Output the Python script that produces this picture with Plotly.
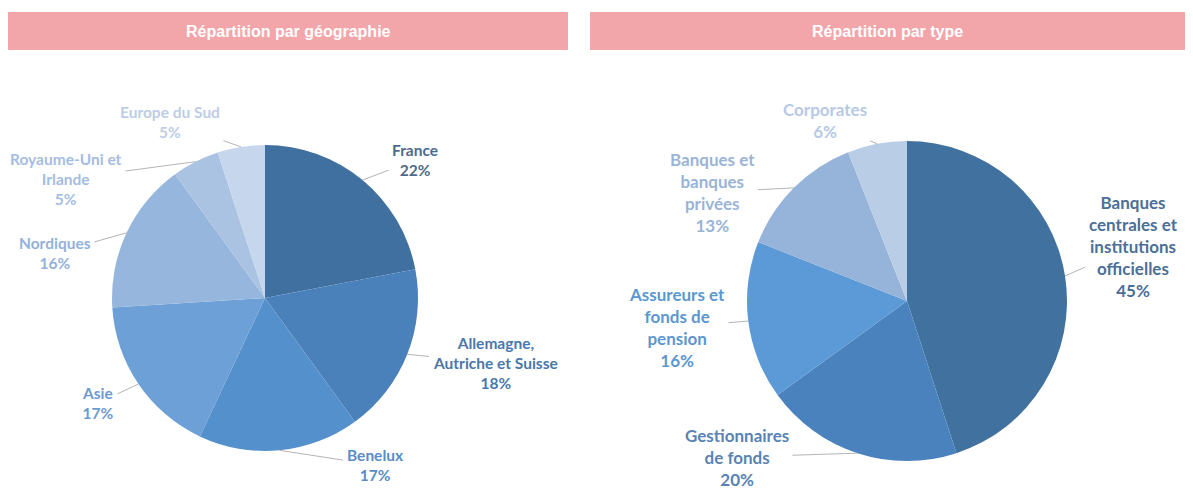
import math
import plotly.graph_objects as go

W, H = 1193, 489

# ---- data ----
geo_labels = ["France", "Allemagne,<br>Autriche et Suisse", "Benelux", "Asie",
              "Nordiques", "Royaume-Uni et<br>Irlande", "Europe du Sud"]
geo_values = [22, 18, 17, 17, 16, 5, 5]

type_labels = ["Banques<br>centrales et<br>institutions<br>officielles", "Gestionnaires<br>de fonds",
               "Assureurs et<br>fonds de<br>pension", "Banques et<br>banques<br>privées", "Corporates"]
type_values = [45, 20, 16, 13, 6]

titles = ["Répartition par géographie", "Répartition par type"]

# ---- styles ----
geo_colors = ["#3F70A0", "#4A81BA", "#5490CC", "#6CA0D6", "#96B6DE", "#ABC3E3", "#C6D6EC"]
geo_text_colors = ["#4E6B8C", "#4A78AA", "#5A8CC6", "#6E9AD0", "#93B1DA", "#A5BDE0", "#BDCDE6"]
type_colors = ["#41729F", "#4A82BE", "#5B9AD6", "#96B4DA", "#BACDE7"]
type_text_colors = ["#4B6F96", "#5B83B2", "#5B97D0", "#9AB4D6", "#B7C9E3"]

# pie geometry (pixels): center x, center y, radius
geo_geom = (265, 298, 153)
type_geom = (907, 301, 160)

# label centres (pixels)
geo_label_pos = [(415, 160), (495, 363), (375, 465), (98, 403), (55, 253), (66, 179), (170, 122)]
type_label_pos = [(1133, 246), (737, 457), (677, 327), (712, 192), (825, 121)]


def px(x):
    return x / W


def py(y):
    return 1 - y / H


fig = go.Figure()


def add_pie(values, colors, geom):
    cx, cy, r = geom
    fig.add_trace(go.Pie(
        values=values, labels=[str(i) for i in range(len(values))],
        sort=False, direction="clockwise", rotation=0,
        marker=dict(colors=colors, line=dict(width=0)),
        textinfo="none", hoverinfo="skip", showlegend=False,
        domain=dict(x=[px(cx - r), px(cx + r)], y=[py(cy + r), py(cy - r)]),
    ))


def add_labels(labels, values, tcolors, geom, positions, size):
    cx, cy, r = geom
    total = sum(values)
    cum = 0
    for lab, v, c, (lx, ly) in zip(labels, values, tcolors, positions):
        th = 2 * math.pi * (cum + v / 2) / total
        cum += v
        tx = cx + r * math.sin(th)
        ty = cy - r * math.cos(th)
        fig.add_annotation(
            x=px(tx), y=py(ty), xref="paper", yref="paper",
            ax=lx - tx, ay=ly - ty,
            showarrow=True, arrowhead=0, arrowwidth=1, arrowcolor="#B4B4B4",
            standoff=0, startstandoff=2,
            text=f"{lab}<br>{v}%", align="center",
            font=dict(family="Lato, 'Open Sans', sans-serif", size=size, color=c, weight="bold"),
        )


add_pie(geo_values, geo_colors, geo_geom)
add_pie(type_values, type_colors, type_geom)
add_labels(geo_labels, geo_values, geo_text_colors, geo_geom, geo_label_pos, 15.5)
add_labels(type_labels, type_values, type_text_colors, type_geom, type_label_pos, 17)

# header bars
bars = [(8, 568), (590, 1185)]
for (x0, x1), t in zip(bars, titles):
    fig.add_shape(type="rect", xref="paper", yref="paper",
                  x0=px(x0), x1=px(x1), y0=py(50), y1=py(12),
                  fillcolor="#F2A6AA", line=dict(width=0), layer="below")
    fig.add_annotation(x=px((x0 + x1) / 2), y=py(31), xref="paper", yref="paper",
                       xanchor="center", yanchor="middle",
                       text=t, showarrow=False,
                       font=dict(family="Liberation Sans, Arial, sans-serif", size=16,
                                 color="#FFFFFF", weight="bold"))

fig.update_layout(
    width=W, height=H, margin=dict(l=0, r=0, t=0, b=0),
    paper_bgcolor="white", plot_bgcolor="white",
)

fig.write_html("out.html", config={"displayModeBar": False},
               post_script="document.body.style.margin='0';")
